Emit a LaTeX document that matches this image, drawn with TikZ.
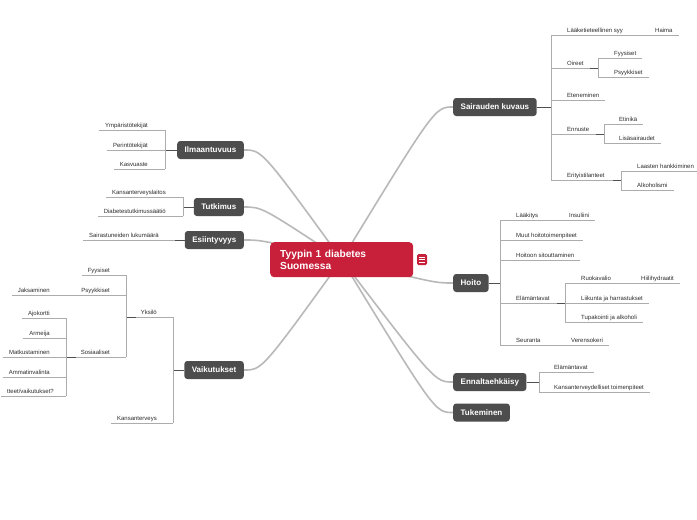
\documentclass[tikz,border=0pt]{standalone}
\usepackage{fontspec}
\setmainfont{Liberation Sans}
\usetikzlibrary{backgrounds}
\definecolor{mapRed}{RGB}{200, 32, 58}
\definecolor{topicGrey}{RGB}{77, 77, 77}
\definecolor{linkGrey}{RGB}{185, 185, 185}
\definecolor{branchGrey}{RGB}{172, 172, 172}
\definecolor{stubGrey}{RGB}{80, 80, 80}
\definecolor{textGrey}{RGB}{45, 45, 45}

\begin{document}
\begin{tikzpicture}[x=1pt, y=-1pt,
    topic/.style={fill=topicGrey, rounded corners=3pt, text=white, font=\bfseries\fontsize{8}{9}\selectfont, inner xsep=7.5pt, inner ysep=0pt, minimum height=18pt},
    subR/.style={font=\fontsize{6}{7}\selectfont, text=textGrey, inner xsep=0pt, inner ysep=1.3pt, text height=4.4pt, text depth=1.2pt, anchor=south west},
    subL/.style={subR, anchor=south east},
    br/.style={draw=branchGrey, line width=0.8pt},
    stub/.style={draw=stubGrey, line width=0.9pt},
    link/.style={draw=linkGrey, line width=1.6pt}]
        \useasboundingbox (0,0) rectangle (697,520);

        % centre
        \node[fill=mapRed, rounded corners=4pt, text=white, font=\bfseries\fontsize{10.2}{11.5}\selectfont, text width=123pt, align=left, inner xsep=10pt, minimum height=35pt, anchor=north west] (diab) at (270,242) {Tyypin 1 diabetes\\Suomessa};
        \node[fill=mapRed, rounded corners=1.5pt, minimum width=10pt, minimum height=11pt, inner sep=0pt] (menu) at (422,259.5) {};
        \foreach \d in {-2.5,0,2.5}
            \draw[white, line width=0.7pt] ([xshift=-3pt, yshift=\d pt]menu.center) -- ([xshift=3pt, yshift=\d pt]menu.center);

        % main topics
        \node[topic, anchor=west] (kuvaus) at (453,107) {Sairauden kuvaus};
        \node[topic, anchor=west] (hoito) at (453,283) {Hoito};
        \node[topic, anchor=west] (ennalt) at (453,382) {Ennaltaehkäisy};
        \node[topic, anchor=west] (tuki) at (453,412.5) {Tukeminen};
        \node[topic, anchor=east] (ilmaan) at (244,150) {Ilmaantuvuus};
        \node[topic, anchor=east] (tutk) at (244,207) {Tutkimus};
        \node[topic, anchor=east] (esiin) at (244,240) {Esiintyvyys};
        \node[topic, anchor=east] (vaik) at (244,370) {Vaikutukset};

        \begin{scope}[on background layer]
            \fill[white] (0,0) rectangle (697,520);
            \foreach \t in {kuvaus,hoito,ennalt,tuki}
                \draw[link] (diab.center) .. controls ([xshift=-18]\t.west) .. (\t.west);
            \foreach \t in {ilmaan,tutk,esiin,vaik}
                \draw[link] (diab.center) .. controls ([xshift=18]\t.east) .. (\t.east);
        \end{scope}

        % Sairauden kuvaus
        \coordinate (kuvausS) at (551,107);
        \node[subR] (syy) at (567,35) {Lääketieteellinen syy};
        \node[subR] (haima) at (655,35) {Haima};
        \node[subR] (oireet) at (567,68) {Oireet};
        \coordinate (oireetS) at (598,68);
        \node[subR] (fyys) at (614,58) {Fyysiset};
        \node[subR] (psyk) at (614,77) {Psyykkiset};
        \node[subR] (etene) at (567,100) {Eteneminen};
        \node[subR] (ennus) at (567,134) {Ennuste};
        \coordinate (ennusS) at (604,134);
        \node[subR] (etni) at (619,124) {Etinikä};
        \node[subR] (lisa) at (619,143) {Lisäsairaudet};
        \node[subR] (erit) at (567,180) {Erityistilanteet};
        \coordinate (eritS) at (621,180);
        \node[subR] (lasten) at (637,171) {Laasten hankkiminen};
        \node[subR] (alko) at (637,190) {Alkoholismi};
        \draw[stub] (kuvaus.east) -- (kuvausS);
        \draw[br] (kuvausS |- syy.south) -- (kuvausS |- erit.south);
        \foreach \a/\b in {syy/haima, etene/etene}
            \draw[br] (kuvausS |- \a.south) -- ([xshift=6]\b.south east);
        \foreach \a/\s in {oireet/oireetS, ennus/ennusS, erit/eritS} {
            \draw[br] (kuvausS |- \a.south) -- (\s);
            \draw[stub] ([xshift=-8]\s) -- (\s);
        }
        \draw[br] (oireetS |- fyys.south) -- (oireetS |- psyk.south);
        \draw[br] (ennusS |- etni.south) -- (ennusS |- lisa.south);
        \draw[br] (eritS |- lasten.south) -- (eritS |- alko.south);
        \foreach \n in {fyys,psyk}
            \draw[br] (oireetS |- \n.south) -- ([xshift=6]\n.south east);
        \foreach \n in {etni,lisa}
            \draw[br] (ennusS |- \n.south) -- ([xshift=6]\n.south east);
        \foreach \n in {lasten,alko}
            \draw[br] (eritS |- \n.south) -- ([xshift=6]\n.south east);

        % Hoito
        \coordinate (hoitoS) at (500,283);
        \node[subR] (laak) at (516,220) {Lääkitys};
        \node[subR] (insu) at (569,220) {Insuliini};
        \node[subR] (muut) at (516,240) {Muut hoitotoimenpiteet};
        \node[subR] (sitou) at (516,260) {Hoitoon sitouttaminen};
        \node[subR] (elam) at (516,303) {Elämäntavat};
        \coordinate (elamS) at (565,303);
        \node[subR] (ruoka) at (581,283) {Ruokavalio};
        \node[subR] (hiili) at (641,283) {Hiilihydraatit};
        \node[subR] (liik) at (581,303) {Liikunta ja harrastukset};
        \node[subR] (tupa) at (581,322) {Tupakointi ja alkoholi};
        \node[subR] (seur) at (516,345) {Seuranta};
        \node[subR] (veren) at (571,345) {Verensokeri};
        \draw[stub] (hoito.east) -- (hoitoS);
        \draw[br] (hoitoS |- laak.south) -- (hoitoS |- seur.south);
        \foreach \a/\b in {laak/insu, muut/muut, sitou/sitou, seur/veren}
            \draw[br] (hoitoS |- \a.south) -- ([xshift=6]\b.south east);
        \draw[br] (hoitoS |- elam.south) -- (elamS);
        \draw[stub] ([xshift=-8]elamS) -- (elamS);
        \draw[br] (elamS |- ruoka.south) -- (elamS |- tupa.south);
        \foreach \a/\b in {ruoka/hiili, liik/liik, tupa/tupa}
            \draw[br] (elamS |- \a.south) -- ([xshift=6]\b.south east);

        % Ennaltaehkäisy
        \coordinate (ennaltS) at (539,382);
        \node[subR] (elam2) at (554,372) {Elämäntavat};
        \node[subR] (kansa) at (554,392) {Kansanterveydelliset toimenpiteet};
        \draw[stub] (ennalt.east) -- (ennaltS);
        \draw[br] (ennaltS |- elam2.south) -- (ennaltS |- kansa.south);
        \foreach \n in {elam2,kansa}
            \draw[br] (ennaltS |- \n.south) -- ([xshift=6]\n.south east);

        % Ilmaantuvuus
        \coordinate (ilmaanS) at (165,150);
        \node[subL] (ymp) at (148,130) {Ympäristötekijät};
        \node[subL] (peri) at (148,150) {Perintötekijät};
        \node[subL] (kasvu) at (148,169) {Kasvuaste};
        \draw[stub] (ilmaan.west) -- (ilmaanS);
        \draw[br] (ilmaanS |- ymp.south) -- (ilmaanS |- kasvu.south);
        \foreach \n in {ymp,peri,kasvu}
            \draw[br] (ilmaanS |- \n.south) -- ([xshift=-6]\n.south west);

        % Tutkimus
        \coordinate (tutkS) at (183,207);
        \node[subL] (ktl) at (166,197) {Kansanterveyslaitos};
        \node[subL] (dts) at (166,216) {Diabetestutkimussäätiö};
        \draw[stub] (tutk.west) -- (tutkS);
        \draw[br] (tutkS |- ktl.south) -- (tutkS |- dts.south);
        \foreach \n in {ktl,dts}
            \draw[br] (tutkS |- \n.south) -- ([xshift=-6]\n.south west);

        % Esiintyvyys
        \node[subL] (sair) at (159,240) {Sairastuneiden lukumäärä};
        \draw[br] ([xshift=-6]sair.south west) -- (esiin.west);
        \draw[stub] ([xshift=-10]esiin.west) -- (esiin.west);

        % Vaikutukset
        \coordinate (vaikS) at (173,370);
        \node[subL] (yks) at (157,317) {Yksilö};
        \coordinate (yksS) at (126,317);
        \node[subL] (fyys2) at (110,275) {Fyysiset};
        \node[subL] (psyk2) at (110,295) {Psyykkiset};
        \node[subL] (jaks) at (50,295) {Jaksaminen};
        \node[subL] (sos) at (110,357) {Sosiaaliset};
        \coordinate (sosS) at (66,357);
        \node[subL] (ajo) at (50,318) {Ajokortti};
        \node[subL] (arm) at (50,338) {Armeija};
        \node[subL] (matk) at (50,357) {Matkustaminen};
        \node[subL] (amm) at (50,377) {Ammatinvalinta};
        \node[subL] (muutv) at (54,396) {tteet/vaikutukset?};
        \node[subL] (kter) at (157,423) {Kansanterveys};
        \draw[stub] (vaik.west) -- (vaikS);
        \draw[br] (vaikS |- yks.south) -- (vaikS |- kter.south);
        \draw[br] (vaikS |- kter.south) -- ([xshift=-6]kter.south west);
        \draw[br] (vaikS |- yks.south) -- (yksS);
        \draw[stub] ([xshift=10]yksS) -- (yksS);
        \draw[br] (yksS |- fyys2.south) -- (yksS |- sos.south);
        \draw[br] (yksS |- fyys2.south) -- ([xshift=-6]fyys2.south west);
        \draw[br] (yksS |- psyk2.south) -- ([xshift=-6]jaks.south west);
        \draw[br] (yksS |- sos.south) -- (sosS);
        \draw[stub] ([xshift=10]sosS) -- (sosS);
        \draw[br] (sosS |- ajo.south) -- (sosS |- muutv.south);
        \foreach \n in {ajo,arm,matk,amm,muutv}
            \draw[br] (sosS |- \n.south) -- ([xshift=-6]\n.south west);
      \end{tikzpicture}
\end{document}
